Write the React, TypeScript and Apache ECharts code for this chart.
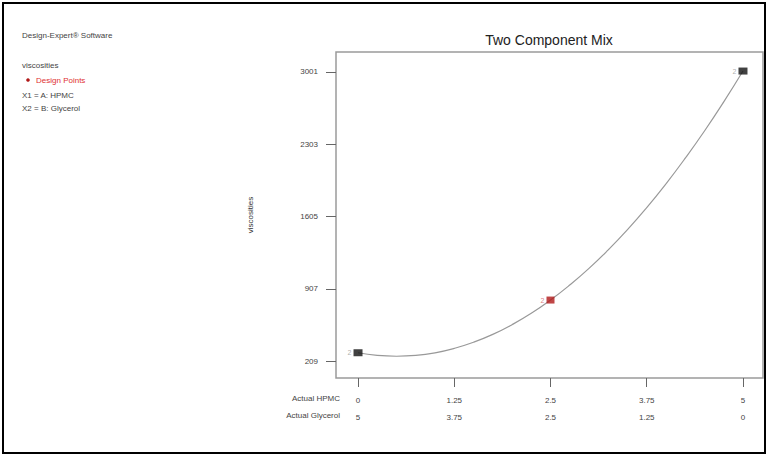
import React, { useEffect, useRef } from "react";
import * as echarts from "echarts";

// Component A (actual) positions along the mixture
const xTicksA = [0, 1.25, 2.5, 3.75, 5];
const xLabelsA = ["0", "1.25", "2.5", "3.75", "5"];
const xLabelsB = ["5", "3.75", "2.5", "1.25", "0"];

// Y ticks
const yTicks = [209, 907, 1605, 2303, 3001];
const yLabels = ["209", "907", "1605", "2303", "3001"];

// Fitted curve (A, viscosity)
const curveA = [0, 0.25, 0.5, 0.75, 1, 1.25, 1.5, 1.75, 2, 2.25, 2.5, 2.75, 3, 3.25, 3.5, 3.75, 4, 4.25, 4.5, 4.75, 5];
const curveY = [289, 263, 255, 263, 288, 331, 390, 466, 560, 670, 798, 943, 1104, 1283, 1478, 1691, 1921, 2168, 2431, 2712, 3010];

// Design points
const blackPointsA = [0, 5];
const blackPointsY = [289, 3010];
const redPointsA = [2.5];
const redPointsY = [798];

const leftTexts = [
  "Design-Expert® Software",
  "",
  "viscosities",
];

export default function App() {
  const ref = useRef<HTMLDivElement>(null);
  useEffect(() => {
    if (!ref.current) return;
    const chart = echarts.init(ref.current, null, { renderer: "svg" });
    const font = "Liberation Sans, Arial, sans-serif";
    chart.setOption({
      animation: false,
      backgroundColor: "#ffffff",
      textStyle: { fontFamily: font },
      grid: {
        left: 336,
        top: 52,
        width: 427,
        height: 326,
        show: true,
        borderColor: "#9a9a9a",
        borderWidth: 1.5,
      },
      xAxis: {
        type: "value",
        min: -0.286,
        max: 5.26,
        axisLine: { show: false, onZero: false },
        splitLine: { show: false },
        axisTick: {
          show: true,
          length: 9,
          lineStyle: { color: "#666" },
          customValues: xTicksA,
        },
        axisLabel: {
          customValues: xTicksA,
          margin: 14,
          fontSize: 8,
          color: "#444",
          lineHeight: 17,
          formatter: (v: number) => {
            const i = xTicksA.findIndex((t) => Math.abs(t - v) < 1e-6);
            return i >= 0 ? `${xLabelsA[i]}\n${xLabelsB[i]}` : "";
          },
        },
      },
      yAxis: {
        type: "value",
        min: 45,
        max: 3194,
        axisLine: { show: false, onZero: false },
        splitLine: { show: false },
        axisTick: {
          show: true,
          length: 10,
          lineStyle: { color: "#666" },
          customValues: yTicks,
        },
        axisLabel: {
          customValues: yTicks,
          margin: 18,
          fontSize: 8,
          color: "#444",
          formatter: (v: number) => {
            const i = yTicks.findIndex((t) => Math.abs(t - v) < 1e-6);
            return i >= 0 ? yLabels[i] : "";
          },
        },
        name: "viscosities",
        nameLocation: "middle",
        nameGap: 82,
        nameRotate: 90,
        nameTextStyle: { fontSize: 8, color: "#333" },
      },
      series: [
        {
          type: "line",
          data: curveA.map((a, i) => [a, curveY[i]]),
          smooth: true,
          symbol: "none",
          lineStyle: { color: "#999", width: 1.2 },
          z: 2,
        },
        {
          type: "scatter",
          data: blackPointsA.map((a, i) => [a, blackPointsY[i]]),
          symbol: "rect",
          symbolSize: [9, 7],
          itemStyle: { color: "#111" },
          label: {
            show: true,
            position: "left",
            distance: 2,
            formatter: "2",
            fontSize: 7,
            color: "#999",
          },
          z: 3,
        },
        {
          type: "scatter",
          data: redPointsA.map((a, i) => [a, redPointsY[i]]),
          symbol: "rect",
          symbolSize: [8, 7],
          itemStyle: { color: "#b01818" },
          label: {
            show: true,
            position: "left",
            distance: 2,
            formatter: "2",
            fontSize: 7,
            color: "#d06060",
          },
          z: 3,
        },
      ],
      graphic: [
        {
          type: "rect",
          shape: { x: 3, y: 3, width: 762, height: 450 },
          style: { fill: "none", stroke: "#000", lineWidth: 2 },
          silent: true,
        },
        {
          type: "text",
          x: 549,
          y: 40,
          style: {
            text: "Two Component Mix",
            font: `14px ${font}`,
            fill: "#222",
            align: "center",
            verticalAlign: "middle",
          },
        },
        {
          type: "text",
          x: 22,
          y: 35,
          style: { text: leftTexts[0], font: `8px ${font}`, fill: "#444", verticalAlign: "middle" },
        },
        {
          type: "text",
          x: 22,
          y: 65,
          style: { text: leftTexts[2], font: `8px ${font}`, fill: "#444", verticalAlign: "middle" },
        },
        {
          type: "circle",
          shape: { cx: 28, cy: 80, r: 1.8 },
          style: { fill: "#b01818" },
        },
        {
          type: "text",
          x: 36,
          y: 80,
          style: { text: "Design Points", font: `8px ${font}`, fill: "#e03030", verticalAlign: "middle" },
        },
        {
          type: "text",
          x: 22,
          y: 95,
          style: { text: "X1 = A: HPMC", font: `8px ${font}`, fill: "#444", verticalAlign: "middle" },
        },
        {
          type: "text",
          x: 22,
          y: 108,
          style: { text: "X2 = B: Glycerol", font: `8px ${font}`, fill: "#444", verticalAlign: "middle" },
        },
        {
          type: "text",
          x: 340,
          y: 398,
          style: { text: "Actual HPMC", font: `8px ${font}`, fill: "#444", align: "right", verticalAlign: "middle" },
        },
        {
          type: "text",
          x: 340,
          y: 415,
          style: { text: "Actual Glycerol", font: `8px ${font}`, fill: "#444", align: "right", verticalAlign: "middle" },
        },
      ],
    });
    return () => chart.dispose();
  }, []);
  return (
    <div
      ref={ref}
      style={{ position: "fixed", left: 0, top: 0, width: 769, height: 462 }}
    />
  );
}
